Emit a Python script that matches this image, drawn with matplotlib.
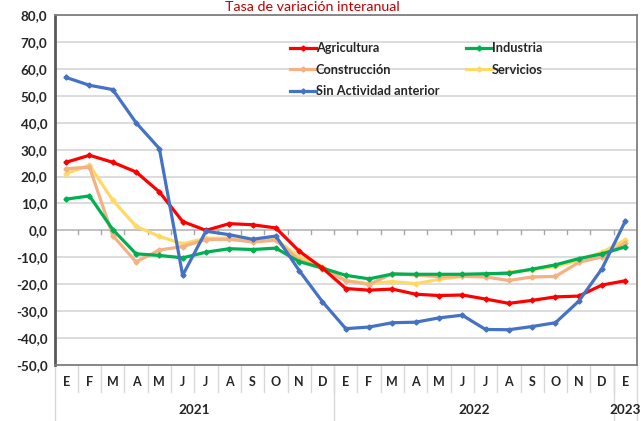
import matplotlib
matplotlib.use("Agg")
import matplotlib.pyplot as plt
from matplotlib.lines import Line2D

months = ["E", "F", "M", "A", "M", "J", "J", "A", "S", "O", "N", "D",
          "E", "F", "M", "A", "M", "J", "J", "A", "S", "O", "N", "D", "E"]
years = ["2021", "2022", "2023"]
year_spans = [(0, 11), (12, 23), (24, 24)]

agricultura = [25.3, 27.9, 25.3, 21.7, 14.3, 3.3, 0.0, 2.5, 2.1, 0.9, -7.7, -14.0,
               -21.6, -22.2, -21.8, -23.7, -24.2, -24.0, -25.5, -27.1, -26.0, -24.7, -24.4, -20.3, -18.7]
industria = [11.6, 12.8, 0.3, -8.7, -9.3, -10.2, -8.1, -6.8, -7.1, -6.6, -11.6, -14.0,
             -16.7, -18.0, -16.2, -16.3, -16.3, -16.3, -16.1, -15.9, -14.4, -12.8, -10.5, -8.7, -6.1]
construccion = [22.9, 23.5, -1.9, -11.7, -7.3, -6.0, -3.4, -3.3, -4.3, -3.7, -11.0, -14.2,
                -18.7, -20.1, -16.1, -16.6, -17.2, -17.1, -17.3, -18.6, -17.3, -17.1, -11.9, -9.8, -4.7]
servicios = [21.1, 24.2, 11.2, 1.5, -2.2, -5.0, -2.9, -2.9, -4.0, -3.3, -9.9, -13.5,
             -18.6, -19.8, -19.0, -19.8, -18.2, -17.1, -16.4, -15.6, -14.6, -13.4, -11.2, -8.1, -3.5]
sin_actividad = [56.8, 53.9, 52.3, 40.0, 30.4, -16.7, -0.3, -1.6, -3.3, -2.1, -14.9, -26.5,
                 -36.5, -35.9, -34.3, -34.1, -32.5, -31.5, -36.8, -36.9, -35.7, -34.3, -26.3, -14.2, 3.5]

series = [
    ("Agricultura", agricultura, "#FF0000"),
    ("Construcción", construccion, "#F4B183"),
    ("Sin Actividad anterior", sin_actividad, "#4472C4"),
    ("Industria", industria, "#00B050"),
    ("Servicios", servicios, "#FFD966"),
]
draw_order = ["Servicios", "Construcción", "Industria", "Agricultura", "Sin Actividad anterior"]

FONT = "Lato"
TXT = "#262626"

W, H = 641, 421
fig = plt.figure(figsize=(W / 100, H / 100), dpi=100)
ax = fig.add_axes([54.5 / W, 1 - 365 / H, (637 - 54.5) / W, (365 - 15) / H])

x = list(range(len(months)))
handles = {}
for name, vals, col in series:
    z = 3 + draw_order.index(name)
    ln, = ax.plot(x, vals, color=col, lw=2.3, marker="D", ms=2.6, zorder=z,
                  solid_joinstyle="round")
    handles[name] = ln

ax.set_xlim(-0.5, len(months) - 0.5)
ax.set_ylim(-50, 80)
yt = list(range(-50, 81, 10))
ax.set_yticks(yt)
ax.set_yticklabels([f"{v},0" for v in yt], fontfamily=FONT, fontweight="bold",
                   fontsize=9.7, color=TXT)
ax.tick_params(axis="y", length=0, pad=5)
ax.set_xticks([])
ax.grid(axis="y", color="#D9D9D9", lw=1.3, zorder=0)
ax.set_axisbelow(True)

for s in ["top", "right", "bottom"]:
    ax.spines[s].set_color("#7F7F7F")
    ax.spines[s].set_linewidth(1.3)
ax.spines["left"].set_color("#595959")
ax.spines["left"].set_linewidth(2.0)

# zero axis with small tick marks
ax.axhline(0, color="#BFBFBF", lw=1.2, zorder=1)
trans = ax.get_xaxis_transform()
for i in range(1, len(months)):
    ax.plot([i - 0.5, i - 0.5], [0, -1.5], color="#A6A6A6", lw=1.0, zorder=1)

# category labels and separators below axes
ax_h_px = 350.0
def yfrac(px_below):
    return -px_below / ax_h_px

for i, m in enumerate(months):
    ax.text(i, yfrac(17), m, transform=trans, ha="center", va="center",
            fontfamily=FONT, fontweight="bold", fontsize=9, color=TXT, clip_on=False)
for i in range(1, len(months)):
    ax.add_line(Line2D([i - 0.5, i - 0.5], [0, yfrac(27)], transform=trans,
                       color="#D9D9D9", lw=1.0, clip_on=False))
for b in [-0.5, 11.5, 23.5, 24.5]:
    ax.add_line(Line2D([b, b], [0, yfrac(60)], transform=trans,
                       color="#D9D9D9", lw=1.0, clip_on=False))
for yr, (a, b) in zip(years, year_spans):
    ax.text((a + b) / 2, yfrac(45), yr, transform=trans, ha="center", va="center",
            fontfamily=FONT, fontweight="bold", fontsize=9.7, color=TXT, clip_on=False)

# title
fig.text(312 / W, 1 - 7 / H, "Tasa de variación interanual", ha="center", va="center",
         fontfamily=FONT, fontsize=10.3, color="#C00000")

leg = ax.legend([handles[n] for n, _, _ in series], [n for n, _, _ in series],
                ncol=2, frameon=False, loc="upper left",
                bbox_to_anchor=((285 - 54.5) / (637 - 54.5), 1 - (37 - 15) / 350),
                prop={"family": FONT, "weight": "bold", "size": 9.2},
                handlelength=2.0, handletextpad=0.0, columnspacing=2.1,
                labelspacing=0.75, borderaxespad=0)
for t in leg.get_texts():
    t.set_color(TXT)

fig.savefig("out.png", dpi=100)
